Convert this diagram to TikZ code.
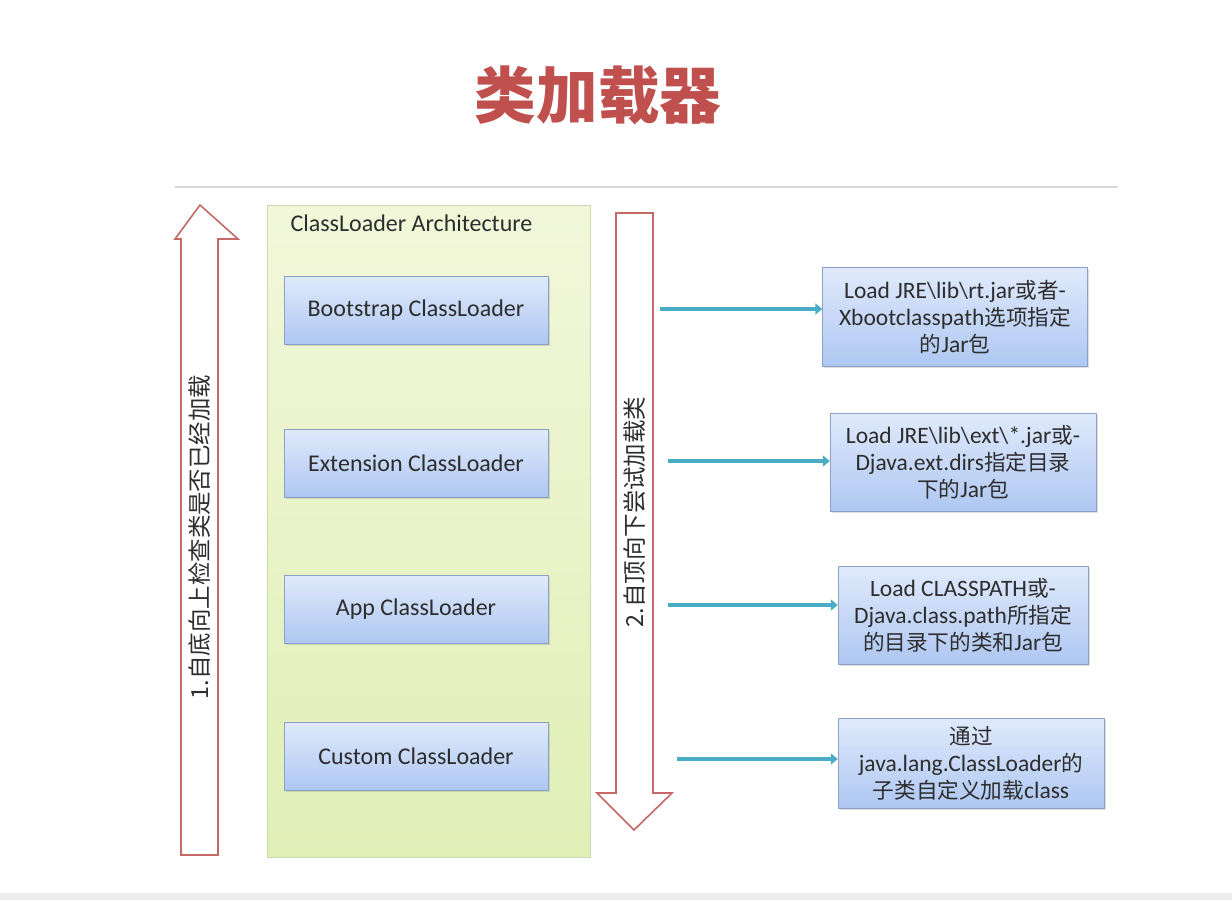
\documentclass[tikz,border=0pt]{standalone}
\usepackage{fontspec}
\setmainfont{Carlito}
\newfontfamily\cjk[Scale=0.92]{Noto Sans CJK SC}
\usepackage{tikz}
\usetikzlibrary{arrows.meta, shadows}

\definecolor{titlered}{RGB}{192,80,77}
\definecolor{hollowred}{RGB}{196,104,104}
\definecolor{archtop}{RGB}{242,247,218}
\definecolor{archbot}{RGB}{224,239,182}
\definecolor{archline}{RGB}{205,218,175}
\definecolor{loadtop}{RGB}{224,234,251}
\definecolor{loadbot}{RGB}{174,199,242}
\definecolor{loadline}{RGB}{140,160,200}
\definecolor{pointer}{RGB}{75,172,198}
\definecolor{inkgray}{RGB}{45,45,45}
\definecolor{rulegray}{RGB}{215,215,215}
\definecolor{bandgray}{RGB}{236,236,236}

\tikzset{
  archbox/.style={draw=archline, top color=archtop, bottom color=archbot, anchor=north west},
  loader/.style={draw=loadline, top color=loadtop, bottom color=loadbot, minimum width=264pt, minimum height=68pt,
    font=\fontsize{24}{28}\selectfont, text=inkgray, drop shadow={opacity=0.25, shadow xshift=1.5pt, shadow yshift=-1.5pt}},
  pathbox/.style={draw=loadline, top color=loadtop, bottom color=loadbot, align=center, inner sep=1pt,
    font=\fontsize{23.5}{27}\selectfont, text=inkgray, drop shadow={opacity=0.25, shadow xshift=1.5pt, shadow yshift=-1.5pt}},
  hollow/.style={draw=hollowred, line width=1.6pt, fill=white, line join=miter},
  pointto/.style={-{Triangle[length=7pt, width=11pt]}, line width=4.5pt, pointer},
  sidetext/.style={rotate=90, text=inkgray, font=\cjk\fontsize{25.5}{28}\selectfont}
}

\begin{document}
\begin{tikzpicture}[x=1pt, y=-1pt]
  \useasboundingbox (0,0) rectangle (1232,900);
  \fill[bandgray] (0,893) rectangle (1232,900);

  % Title
  \node[text=titlered, font=\cjk\bfseries\fontsize{67}{72}\selectfont] (title) at (598,95) {类加载器};
  \draw[rulegray, line width=1.2pt] (175,187) -- (1118,187);

  % Left: check upwards
  \draw[hollow] (181,855) -- (181,239) -- (175,239) -- (200,205) -- (238,239) -- (218,239) -- (218,855) -- cycle;
  \node[sidetext] (upward) at (200,537) {1.自底向上检查类是否已经加载};

  % Middle: architecture
  \node[archbox, minimum width=323pt, minimum height=652pt] (arch) at (267,205) {};
  \node[anchor=west, font=\fontsize{24}{28}\selectfont, text=inkgray] (archtitle) at (287,223) {ClassLoader Architecture};
  \foreach \n/\y/\t in {boot/310/Bootstrap, ext/463/Extension, app/609/App, cust/756/Custom} {
    \node[loader] (\n) at (416,\y) {\t\ ClassLoader};
  }

  % Down arrow: try to load
  \draw[hollow] (616,213) -- (653,213) -- (653,793) -- (672,793) -- (634,830) -- (597,793) -- (616,793) -- cycle;
  \node[sidetext] (downward) at (635,512) {2.自顶向下尝试加载类};

  % Right: where each loader looks
  \node[pathbox, minimum width=265pt, minimum height=99pt] (bootpath) at (955,317) {
    Load JRE\textbackslash lib\textbackslash rt.jar{\cjk 或者}-\\
    Xbootclasspath{\cjk 选项指定}\\
    {\cjk 的}Jar{\cjk 包}
  };
  \node[pathbox, minimum width=266pt, minimum height=98pt] (extpath) at (963,462) {
    Load JRE\textbackslash lib\textbackslash ext\textbackslash *.jar{\cjk 或}-\\
    Djava.ext.dirs{\cjk 指定目录}\\
    {\cjk 下的}Jar{\cjk 包}
  };
  \node[pathbox, minimum width=250pt, minimum height=98pt] (apppath) at (963,615) {
    Load CLASSPATH{\cjk 或}-\\
    Djava.class.path{\cjk 所指定}\\
    {\cjk 的目录下的类和}Jar{\cjk 包}
  };
  \node[pathbox, minimum width=266pt, minimum height=90pt] (custpath) at (971,763) {
    {\cjk 通过}\\
    java.lang.ClassLoader{\cjk 的}\\
    {\cjk 子类自定义加载}class
  };

  % Pointers
  \coordinate (s1) at (660,309);
  \coordinate (s2) at (668,461);
  \coordinate (s3) at (668,605);
  \coordinate (s4) at (677,759);
  \draw[pointto] (s1) -- (s1 -| bootpath.west);
  \draw[pointto] (s2) -- (s2 -| extpath.west);
  \draw[pointto] (s3) -- (s3 -| apppath.west);
  \draw[pointto] (s4) -- (s4 -| custpath.west);
\end{tikzpicture}
\end{document}
